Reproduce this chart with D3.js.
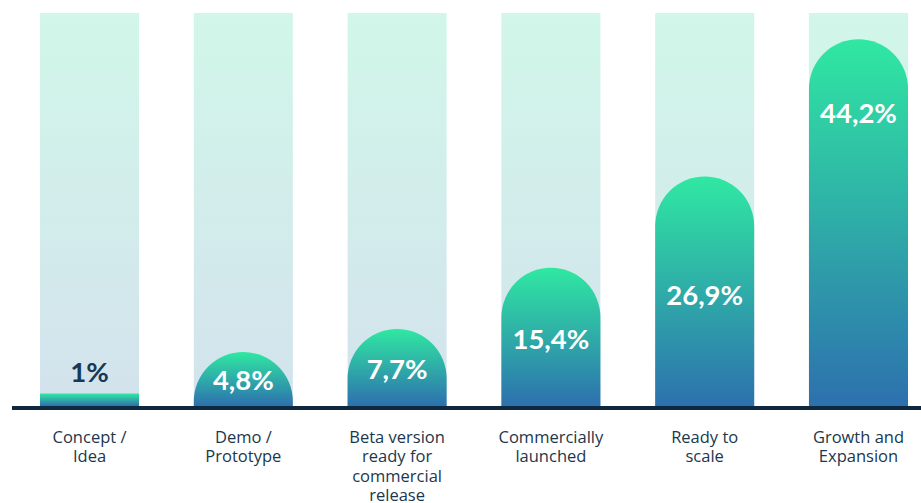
<html>
  <head>
    <script src="https://d3js.org/d3.v7.min.js"></script>
    <style>
      body { margin: 0; background: #fff; }
    </style>
  </head>
  <body>
    <svg width="921" height="503" id="chart"></svg>
  </body>

  <script type="text/javascript">

    var categories = ["Concept /\nIdea", "Demo /\nPrototype", "Beta version\nready for\ncommercial\nrelease",
                      "Commercially\nlaunched", "Ready to\nscale", "Growth and\nExpansion"];
    var shares = [1, 4.8, 7.7, 15.4, 26.9, 44.2];

    var baseY = 406;
    var topY = 13;

    var svg = d3.select("#chart");
    var defs = svg.append("defs");

    var bgGrad = defs.append("linearGradient").attr("id", "bgGrad")
        .attr("x1", 0).attr("y1", 0).attr("x2", 0).attr("y2", 1);
    bgGrad.append("stop").attr("offset", "0%").attr("stop-color", "#d1f7e9");
    bgGrad.append("stop").attr("offset", "100%").attr("stop-color", "#d3e2ed");

    var barGrad = defs.append("linearGradient").attr("id", "barGrad")
        .attr("x1", 0).attr("y1", 0).attr("x2", 0).attr("y2", 1);
    barGrad.append("stop").attr("offset", "0%").attr("stop-color", "#30e8a2");
    barGrad.append("stop").attr("offset", "100%").attr("stop-color", "#2d70ae");

    var x = d3.scaleBand()
        .domain(categories)
        .range([40, 908])
        .paddingInner(0.356)
        .paddingOuter(0);

    // bars keep a little base height, the rounded cap eats into it
    var y = d3.scaleLinear()
        .domain([-2, 47.5])
        .range([baseY, topY]);

    var locale = d3.formatLocale({decimal: ",", thousands: ".", grouping: [3], currency: ["", "€"]});
    var fmt = locale.format("~g");

    var bw = x.bandwidth();

    // background columns
    svg.selectAll(".bg").data(categories).enter().append("rect")
        .attr("class", "bg")
        .attr("x", function(d){ return x(d); })
        .attr("y", topY)
        .attr("width", bw)
        .attr("height", baseY - topY)
        .attr("fill", "url(#bgGrad)");

    function barPath(c, v) {
        var x0 = x(c), w = bw, r = w / 2, t = y(v);
        if (baseY - t <= r) {
            t = baseY - 12.5;
            return "M" + x0 + "," + baseY + "V" + t + "H" + (x0 + w) + "V" + baseY + "Z";
        }
        return "M" + x0 + "," + baseY + "V" + (t + r) +
            "A" + r + "," + r + " 0 0 1 " + (x0 + w) + "," + (t + r) +
            "V" + baseY + "Z";
    }

    svg.selectAll(".bar").data(shares).enter().append("path")
        .attr("class", "bar")
        .attr("d", function(d, i){ return barPath(categories[i], d); })
        .attr("fill", "url(#barGrad)");

    // value labels
    svg.selectAll(".val").data(shares).enter().append("text")
        .attr("class", "val")
        .attr("x", function(d, i){ return x(categories[i]) + bw / 2; })
        .attr("y", function(d){
            var t = y(d), h = baseY - t;
            if (h <= bw / 2) return baseY - 34;
            if (h > 300) return t + 74;
            return t + h * 0.52;
        })
        .attr("dy", "0.35em")
        .attr("text-anchor", "middle")
        .attr("font-family", "Lato, 'Open Sans', sans-serif")
        .attr("font-weight", 700)
        .attr("font-size", 27.5)
        .attr("fill", function(d){ return (baseY - y(d) <= bw / 2) ? "#163a56" : "#ffffff"; })
        .text(function(d){ return fmt(d) + "%"; });

    // baseline
    svg.append("line")
        .attr("x1", 12).attr("x2", 921)
        .attr("y1", baseY + 2).attr("y2", baseY + 2)
        .attr("stroke", "#0e2840")
        .attr("stroke-width", 4);

    // category labels
    var cat = svg.selectAll(".cat").data(categories).enter().append("text")
        .attr("class", "cat")
        .attr("x", function(d){ return x(d) + bw / 2; })
        .attr("y", 437)
        .attr("dy", "0.35em")
        .attr("text-anchor", "middle")
        .attr("font-family", "'Open Sans', Lato, sans-serif")
        .attr("font-weight", 500)
        .attr("font-size", 16.5)
        .attr("fill", "#1b374c");

    cat.each(function(d){
        var el = d3.select(this);
        d.split("\n").forEach(function(line, j){
            el.append("tspan")
                .attr("x", x(d) + bw / 2)
                .attr("dy", j === 0 ? "0.35em" : "1.18em")
                .text(line);
        });
    });

  </script>
</html>
